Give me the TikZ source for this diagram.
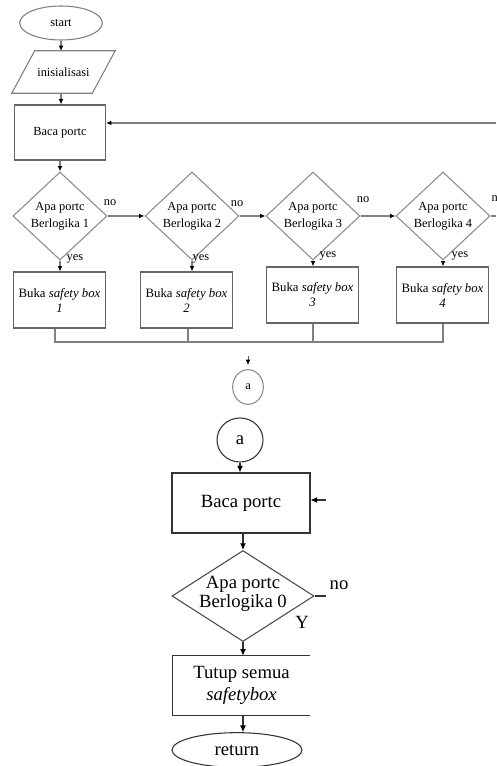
\documentclass[tikz,border=0pt]{standalone}
\usepackage{fontspec}
\setmainfont{Liberation Serif}
\usetikzlibrary{shapes.geometric,arrows.meta}

\tikzset{
  topline/.style={draw=black!50, line width=0.8pt},
  botline/.style={draw=black!80, line width=0.8pt},
  toparr/.style={topline, -{Latex[length=4pt,width=3.5pt,color=black]}},
  botarr/.style={botline, -{Latex[length=5pt,width=4.5pt,color=black]}},
  topfont/.style={font=\fontsize{9.3}{12.75}\selectfont},
  boxfont/.style={font=\fontsize{9.6}{11.25}\selectfont},
  bigfont/.style={font=\fontsize{14}{14.5}\selectfont},
  dia/.style={diamond, draw=black!45, line width=0.8pt, inner sep=0pt,
              minimum width=70.5pt, minimum height=66pt},
  sbox/.style={rectangle, draw=black!60, line width=0.8pt, boxfont, align=center,
               minimum width=69pt, minimum height=42pt, inner sep=0pt},
}

\begin{document}
\begin{tikzpicture}[x=0.75pt,y=-0.75pt]
\useasboundingbox (0,0) rectangle (496,766);
\fill[white] (0,0) rectangle (496,766);

% ---------- main routine ----------
\node[ellipse, topline, minimum width=62pt, minimum height=25.5pt, inner sep=0pt, topfont]
  (start) at (61,23) {start};

% input parallelogram: text node plus slanted outline
\node[rectangle, minimum width=60pt, minimum height=31.5pt, inner sep=0pt, topfont]
  (init) at (63.5,72) {inisialisasi};
\draw[topline, line join=miter]
  ([xshift=8.6pt]init.north west) -- ([xshift=8.6pt]init.north east)
  -- ([xshift=-8.6pt]init.south east) -- ([xshift=-8.6pt]init.south west) -- cycle;
\coordinate (initT) at (61,51);
\coordinate (initB) at (61,93);

\node[rectangle, draw=black!60, line width=0.8pt, minimum width=68.25pt,
      minimum height=41.25pt, inner sep=0pt, topfont]
  (baca1) at (60,132.5) {Baca portc};

\draw[toparr] (start.south) -- (start.south |- initT);
\draw[toparr] (initB) -- (initB |- baca1.north);

% loop back into "Baca portc"
\coordinate (fb) at (496,123);
\draw[toparr] (fb) -- (fb -| baca1.east);

% decisions
\node[dia] (d1) at (60,216) {};
\node[topfont, align=center] at (d1) {Apa portc\\Berlogika 1};
\node[dia] (d2) at (192,216) {};
\node[topfont, align=center] at (d2) {Apa portc\\Berlogika 2};
\node[dia] (d3) at (313,216) {};
\node[topfont, align=center] at (d3) {Apa portc\\Berlogika 3};
\node[dia] (d4) at (443,216) {};
\node[topfont, align=center] at (d4) {Apa portc\\Berlogika 4};

\draw[toparr] (baca1.south) -- (d1.north);
\draw[toparr] (d1.east) -- (d2.west);
\draw[toparr] (d2.east) -- (d3.west);
\draw[toparr] (d3.east) -- (d4.west);
\coordinate (d4out) at (496,216);
\draw[topline] (d4.east) -- (d4out);

\node[topfont] at (110,203) {no};
\node[topfont] at (237,204) {no};
\node[topfont] at (363,200) {no};
\node[topfont, anchor=west] at (487,199) {no};

% actions
\node[sbox] (b1) at (59.5,300) {Buka \textit{safety box}\\\textit{1}};
\node[sbox] (b2) at (186.5,300) {Buka \textit{safety box}\\\textit{2}};
\node[sbox] (b3) at (312.5,295) {Buka \textit{safety box}\\\textit{3}};
\node[sbox] (b4) at (442.5,295) {Buka \textit{safety box}\\\textit{4}};

\draw[toparr] (d1.south) -- (d1.south |- b1.north);
\draw[toparr] (d2.south) -- (d2.south |- b2.north);
\draw[toparr] (d3.south) -- (d3.south |- b3.north);
\draw[toparr] (d4.south) -- (d4.south |- b4.north);

\node[topfont] at (75,259) {yes};
\node[topfont] at (201,259) {yes};
\node[topfont] at (328,256) {yes};
\node[topfont] at (460,256) {yes};

% joining line under the actions
\coordinate (m1) at (55,342);
\coordinate (m2) at (188,342);
\coordinate (m3) at (313,342);
\coordinate (m4) at (443,342);
\draw[topline] (b1.south -| m1) -- (m1) -- (m4) -- (b4.south -| m4);
\draw[topline] (b2.south -| m2) -- (m2);
\draw[topline] (b3.south -| m3) -- (m3);

% off-page connector
\coordinate (ta) at (248,356);
\coordinate (tb) at (248,365);
\draw[draw=black!60, line width=0.6pt, -{Latex[length=4pt,width=3.5pt,color=black]}] (ta) -- (tb);
\node[ellipse, draw=black!45, line width=0.8pt, minimum width=23pt, minimum height=26pt,
      inner sep=0pt, topfont] (a1) at (248,387) {a};

% ---------- continuation ----------
\node[ellipse, botline, minimum width=34.5pt, minimum height=33pt, inner sep=0pt, bigfont]
  (a2) at (240,440) {a};
\node[rectangle, botline, minimum width=103.5pt, minimum height=45pt, inner sep=0pt, bigfont]
  (baca2) at (241,503) {Baca portc};
\draw[botarr] (a2.south) -- (a2.south |- baca2.north);

\coordinate (rin) at (326,500);
\draw[botarr] (rin) -- (rin -| baca2.east);

\node[diamond, draw=black!70, line width=0.8pt, inner sep=0pt,
      minimum width=106.5pt, minimum height=68.25pt] (d0) at (243,596) {};
\node[bigfont, align=center] at (243,594) {Apa portc\\Berlogika 0};
\draw[botarr] (baca2.south -| d0) -- (d0.north);

\coordinate (nq) at (326,597);
\draw[botline] (d0.east) -- (nq |- d0.east);
\node[bigfont] at (339,585) {no};
\node[bigfont] at (302,622) {Y};

\node[rectangle, minimum width=102.75pt, minimum height=44.25pt, inner sep=0pt,
      font=\fontsize{14}{17}\selectfont, align=center]
  (tutup) at (241.5,685.5) {Tutup semua\\\textit{safetybox}};
\draw[botline] (tutup.north east) -- (tutup.north west) -- (tutup.south west) -- (tutup.south east);
\draw[botarr] (d0.south) -- (d0.south |- tutup.north);

\node[ellipse, botline, minimum width=97.5pt, minimum height=26pt, inner sep=0pt, bigfont]
  (ret) at (237,750) {return};
\draw[botarr] (tutup.south -| d0) -- (ret.north -| d0);

\end{tikzpicture}
\end{document}
